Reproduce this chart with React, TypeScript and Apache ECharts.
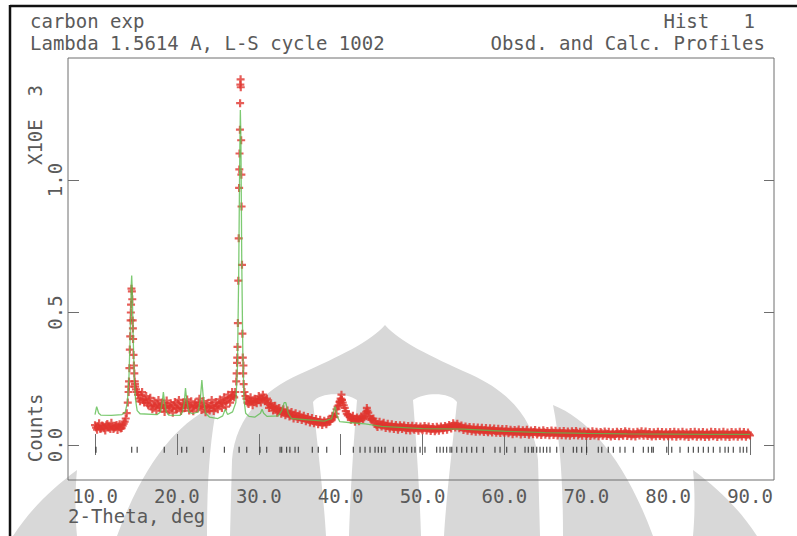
import React, { useEffect, useRef } from "react";
import * as echarts from "echarts";

// ---------- texts ----------
const headerLeft = ["carbon exp", "Lambda 1.5614 A, L-S cycle 1002"];
const headerRight = ["Hist   1", "Obsd. and Calc. Profiles"];
const xTitle = "2-Theta, deg";
const yTitle = "Counts";
const yScaleNote = "X10E  3";

// ---------- axes ----------
const xTicks = [10, 20, 30, 40, 50, 60, 70, 80, 90];
const yTicks = [0, 0.5, 1.0];
const X_MIN = 6.7;
const X_MAX = 92.93;
const Y_MIN = -0.132;
const Y_MAX = 1.4604;

// ---------- observed profile (x10^3 counts) ----------
// row i = degree 10+i, samples at +0.00, +0.25, +0.50, +0.75
const obsStartDeg = 10;
const obsStepDeg = 0.25;
const obsByDegree: number[][] = [
  [0.075, 0.058, 0.082, 0.062], // 10
  [0.071, 0.055, 0.079, 0.066], // 11
  [0.084, 0.06, 0.072, 0.057], // 12
  [0.078, 0.064, 0.081, 0.1], // 13
  [0.16, 0.36, 0.58, 0.3], // 14
  [0.21, 0.19, 0.165, 0.2], // 15
  [0.16, 0.185, 0.15, 0.178], // 16
  [0.135, 0.165, 0.13, 0.17], // 17
  [0.14, 0.16, 0.125, 0.168], // 18
  [0.13, 0.158, 0.122, 0.162], // 19
  [0.135, 0.17, 0.128, 0.16], // 20
  [0.14, 0.172, 0.13, 0.165], // 21
  [0.127, 0.16, 0.138, 0.175], // 22
  [0.132, 0.166, 0.124, 0.158], // 23
  [0.13, 0.17, 0.128, 0.162], // 24
  [0.135, 0.172, 0.14, 0.18], // 25
  [0.145, 0.19, 0.16, 0.2], // 26
  [0.18, 0.24, 0.62, 1.36], // 27
  [0.42, 0.2, 0.175, 0.155], // 28
  [0.18, 0.15, 0.175, 0.158], // 29
  [0.185, 0.16, 0.19, 0.165], // 30
  [0.175, 0.14, 0.158, 0.13], // 31
  [0.148, 0.122, 0.14, 0.118], // 32
  [0.135, 0.112, 0.13, 0.108], // 33
  [0.125, 0.1, 0.12, 0.098], // 34
  [0.115, 0.094, 0.11, 0.09], // 35
  [0.106, 0.085, 0.102, 0.082], // 36
  [0.098, 0.078, 0.095, 0.076], // 37
  [0.092, 0.078, 0.095, 0.09], // 38
  [0.11, 0.105, 0.135, 0.15], // 39
  [0.175, 0.16, 0.14, 0.118], // 40
  [0.115, 0.095, 0.11, 0.088], // 41
  [0.104, 0.09, 0.108, 0.098], // 42
  [0.118, 0.13, 0.108, 0.095], // 43
  [0.1, 0.082, 0.068, 0.088], // 44
  [0.07, 0.084, 0.064, 0.08], // 45
  [0.062, 0.078, 0.06, 0.076], // 46
  [0.058, 0.075, 0.06, 0.074], // 47
  [0.056, 0.072, 0.055, 0.073], // 48
  [0.058, 0.071, 0.054, 0.07], // 49
  [0.056, 0.072, 0.055, 0.07], // 50
  [0.053, 0.068, 0.052, 0.069], // 51
  [0.054, 0.07, 0.056, 0.072], // 52
  [0.058, 0.076, 0.062, 0.082], // 53
  [0.066, 0.08, 0.063, 0.074], // 54
  [0.057, 0.07, 0.054, 0.068], // 55
  [0.052, 0.067, 0.05, 0.066], // 56
  [0.051, 0.065, 0.049, 0.064], // 57
  [0.048, 0.063, 0.047, 0.062], // 58
  [0.046, 0.061, 0.045, 0.06], // 59
  [0.046, 0.06, 0.044, 0.058], // 60
  [0.041, 0.057, 0.043, 0.059], // 61
  [0.04, 0.056, 0.042, 0.058], // 62
  [0.039, 0.055, 0.041, 0.057], // 63
  [0.04, 0.054, 0.038, 0.056], // 64
  [0.039, 0.053, 0.037, 0.055], // 65
  [0.038, 0.054, 0.036, 0.052], // 66
  [0.037, 0.053, 0.036, 0.051], // 67
  [0.035, 0.052, 0.037, 0.053], // 68
  [0.036, 0.05, 0.035, 0.051], // 69
  [0.034, 0.05, 0.034, 0.052], // 70
  [0.036, 0.05, 0.033, 0.049], // 71
  [0.035, 0.051, 0.034, 0.05], // 72
  [0.032, 0.048, 0.034, 0.05], // 73
  [0.033, 0.049, 0.035, 0.052], // 74
  [0.034, 0.05, 0.033, 0.048], // 75
  [0.032, 0.05, 0.036, 0.052], // 76
  [0.035, 0.051, 0.034, 0.049], // 77
  [0.032, 0.048, 0.033, 0.05], // 78
  [0.034, 0.049, 0.032, 0.048], // 79
  [0.033, 0.049, 0.032, 0.05], // 80
  [0.031, 0.048, 0.033, 0.05], // 81
  [0.032, 0.047, 0.03, 0.049], // 82
  [0.033, 0.05, 0.031, 0.048], // 83
  [0.032, 0.049, 0.03, 0.047], // 84
  [0.031, 0.05, 0.033, 0.049], // 85
  [0.03, 0.048, 0.032, 0.05], // 86
  [0.031, 0.047, 0.03, 0.049], // 87
  [0.032, 0.048, 0.031, 0.05], // 88
  [0.032, 0.049, 0.031, 0.047], // 89
];
// row i = degree 10+i, samples at +0.125, +0.375, +0.625, +0.875
const obsMidOffsetDeg = 0.125;
const obsMidByDegree: number[][] = [
  [0.066, 0.07, 0.061, 0.074], // 10
  [0.063, 0.075, 0.068, 0.06], // 11
  [0.069, 0.065, 0.076, 0.07], // 12
  [0.062, 0.073, 0.088, 0.12], // 13
  [0.22, 0.5, 0.44, 0.23], // 14
  [0.2, 0.175, 0.19, 0.17], // 15
  [0.172, 0.158, 0.168, 0.145], // 16
  [0.15, 0.148, 0.155, 0.142], // 17
  [0.152, 0.14, 0.147, 0.15], // 18
  [0.145, 0.14, 0.15, 0.138], // 19
  [0.155, 0.145, 0.14, 0.152], // 20
  [0.156, 0.15, 0.148, 0.142], // 21
  [0.145, 0.15, 0.158, 0.15], // 22
  [0.148, 0.142, 0.145, 0.14], // 23
  [0.15, 0.148, 0.142, 0.148], // 24
  [0.155, 0.158, 0.16, 0.165], // 25
  [0.168, 0.175, 0.18, 0.185], // 26
  [0.2, 0.33, 1.04, 1.02], // 27
  [0.3, 0.185, 0.16, 0.168], // 28
  [0.165, 0.162, 0.166, 0.17], // 29
  [0.172, 0.176, 0.178, 0.17], // 30
  [0.155, 0.15, 0.143, 0.14], // 31
  [0.135, 0.13, 0.128, 0.125], // 32
  [0.122, 0.12, 0.118, 0.115], // 33
  [0.112, 0.11, 0.108, 0.106], // 34
  [0.104, 0.102, 0.1, 0.098], // 35
  [0.095, 0.093, 0.091, 0.09], // 36
  [0.088, 0.086, 0.085, 0.084], // 37
  [0.085, 0.086, 0.088, 0.098], // 38
  [0.108, 0.118, 0.145, 0.162], // 39
  [0.17, 0.15, 0.128, 0.112], // 40
  [0.105, 0.1, 0.098, 0.097], // 41
  [0.096, 0.1, 0.102, 0.105], // 42
  [0.125, 0.122, 0.1, 0.098], // 43
  [0.09, 0.075, 0.078, 0.076], // 44
  [0.077, 0.074, 0.072, 0.07], // 45
  [0.07, 0.068, 0.069, 0.067], // 46
  [0.066, 0.068, 0.067, 0.065], // 47
  [0.064, 0.063, 0.065, 0.062], // 48
  [0.064, 0.062, 0.063, 0.061], // 49
  [0.063, 0.064, 0.062, 0.061], // 50
  [0.06, 0.061, 0.059, 0.062], // 51
  [0.062, 0.063, 0.064, 0.066], // 52
  [0.067, 0.069, 0.072, 0.074], // 53
  [0.073, 0.071, 0.068, 0.065], // 54
  [0.063, 0.062, 0.061, 0.06], // 55
  [0.059, 0.058, 0.059, 0.057], // 56
  [0.058, 0.056, 0.057, 0.055], // 57
  [0.055, 0.054, 0.056, 0.053], // 58
  [0.053, 0.052, 0.054, 0.051], // 59
  [0.052, 0.051, 0.05, 0.051], // 60
  [0.049, 0.05, 0.051, 0.049], // 61
  [0.048, 0.049, 0.05, 0.048], // 62
  [0.047, 0.048, 0.049, 0.047], // 63
  [0.046, 0.047, 0.046, 0.048], // 64
  [0.045, 0.046, 0.045, 0.047], // 65
  [0.044, 0.046, 0.044, 0.045], // 66
  [0.045, 0.044, 0.043, 0.044], // 67
  [0.043, 0.045, 0.044, 0.046], // 68
  [0.042, 0.043, 0.044, 0.043], // 69
  [0.042, 0.044, 0.041, 0.043], // 70
  [0.042, 0.043, 0.041, 0.044], // 71
  [0.041, 0.043, 0.042, 0.04], // 72
  [0.041, 0.04, 0.042, 0.043], // 73
  [0.042, 0.041, 0.043, 0.044], // 74
  [0.041, 0.042, 0.04, 0.041], // 75
  [0.042, 0.044, 0.043, 0.042], // 76
  [0.043, 0.041, 0.042, 0.04], // 77
  [0.04, 0.041, 0.042, 0.041], // 78
  [0.041, 0.04, 0.041, 0.04], // 79
  [0.041, 0.04, 0.042, 0.041], // 80
  [0.04, 0.041, 0.04, 0.042], // 81
  [0.039, 0.04, 0.041, 0.04], // 82
  [0.04, 0.041, 0.039, 0.04], // 83
  [0.041, 0.039, 0.04, 0.039], // 84
  [0.04, 0.041, 0.04, 0.041], // 85
  [0.039, 0.04, 0.041, 0.04], // 86
  [0.04, 0.039, 0.04, 0.041], // 87
  [0.04, 0.041, 0.039, 0.04], // 88
  [0.041, 0.04, 0.039, 0.04], // 89
];
const obsLast: [number, number] = [90.0, 0.036];
// extra observed points on the sharp peaks
const obsPeakPoints: [number, number][] = [
  [14.1, 0.2], [14.15, 0.24], [14.2, 0.29], [14.3, 0.41], [14.35, 0.47], [14.4, 0.53],
  [14.45, 0.59], [14.55, 0.55], [14.6, 0.47], [14.65, 0.4], [14.7, 0.34], [14.8, 0.27],
  [14.85, 0.24], [14.9, 0.22],
  [27.3, 0.27], [27.35, 0.31], [27.4, 0.37], [27.45, 0.46], [27.55, 0.78], [27.6, 0.97],
  [27.65, 1.1], [27.7, 1.19], [27.72, 1.29], [27.78, 1.38], [27.8, 1.35], [27.85, 1.15],
  [27.9, 0.9], [27.95, 0.68], [28.05, 0.33], [28.1, 0.27], [28.15, 0.23],
  [39.9, 0.165], [40.1, 0.19], [40.15, 0.17], [43.2, 0.14],
];

// ---------- calculated profile ----------
const calcProfile: [number, number][] = [
  [10.0, 0.115], [10.1, 0.13], [10.2, 0.145], [10.3, 0.135], [10.45, 0.12], [10.7, 0.113],
  [12.0, 0.112], [13.3, 0.115], [13.7, 0.125], [13.95, 0.16], [14.15, 0.26], [14.3, 0.42],
  [14.42, 0.6], [14.48, 0.64], [14.55, 0.58], [14.65, 0.42], [14.8, 0.25], [14.95, 0.17],
  [15.15, 0.13], [15.5, 0.118], [17.6, 0.115], [18.0, 0.125], [18.2, 0.16], [18.35, 0.2],
  [18.5, 0.16], [18.7, 0.125], [19.0, 0.113], [20.4, 0.112], [20.7, 0.125], [20.9, 0.16],
  [21.05, 0.215], [21.2, 0.17], [21.45, 0.125], [21.9, 0.118], [22.6, 0.125], [22.85, 0.17],
  [23.05, 0.245], [23.25, 0.17], [23.5, 0.12], [24.0, 0.105], [25.0, 0.1], [25.6, 0.11],
  [25.9, 0.135], [26.2, 0.115], [26.8, 0.125], [27.2, 0.16], [27.4, 0.3], [27.55, 0.65],
  [27.68, 1.1], [27.75, 1.264], [27.82, 1.15], [27.92, 0.7], [28.05, 0.35], [28.2, 0.17],
  [28.4, 0.12], [28.8, 0.108], [29.5, 0.105], [30.2, 0.12], [30.4, 0.135], [30.6, 0.12],
  [31.0, 0.108], [32.4, 0.11], [32.8, 0.13], [33.1, 0.16], [33.3, 0.16], [33.6, 0.12],
  [34.0, 0.1], [36.0, 0.095], [38.0, 0.09], [38.9, 0.1], [39.2, 0.135], [39.35, 0.145],
  [39.55, 0.11], [39.9, 0.088], [41.0, 0.085], [43.0, 0.08], [45.0, 0.07], [50.0, 0.062],
  [55.0, 0.06], [60.0, 0.052], [65.0, 0.047], [70.0, 0.044], [75.0, 0.042], [80.0, 0.041],
  [85.0, 0.04], [90.0, 0.04],
];

// ---------- reflection positions (deg) ----------
const reflections = [
  10.12, 14.48, 15.15, 18.46, 20.59, 21.2, 23.23, 25.8, 27.6, 28.53, 30.15, 30.97, 32.6,
  32.8, 33.4, 33.8, 34.43, 34.83, 36.54, 37.27, 38.3, 41.55, 42.37, 42.98, 43.59, 44.2,
  44.6, 45.0, 45.42, 46.43, 47.17, 47.66, 48.07, 48.68, 49.08, 49.7, 50.3, 51.73, 52.14,
  52.54, 52.95, 53.36, 53.57, 54.18, 54.79, 55.4, 56.01, 56.62, 57.43, 58.85, 59.47,
  60.28, 61.3, 62.52, 62.92, 63.34, 63.53, 63.95, 64.35, 64.76, 65.17, 65.57, 66.39,
  67.2, 68.42, 68.83, 69.44, 70.05, 71.47, 71.89, 72.69, 73.31, 74.12, 74.73, 75.75,
  76.97, 77.58, 77.99, 78.19, 79.83, 80.44, 81.45, 82.47, 83.08, 83.69, 84.3, 84.91,
  85.52, 86.33, 86.95, 87.35, 87.96, 88.78, 89.18, 89.6,
];
const reflTickLevel = -0.018;

// ---------- styling ----------
const MONO = '"DejaVu Sans Mono", monospace';
const TEXT = "#5a5a5a";
const AXIS = "#6e6e6e";
const RED = "#e0342e";
const GREEN = "#5dbd4f";
const WM = "#d8d8d8";
const PLUS = "path://M2.9,0H5.1V2.9H8V5.1H5.1V8H2.9V5.1H0V2.9H2.9Z";

// watermark (background logo) outlines, page pixels
const wmGrayPath =
  "M385,325 C400,342 430,356 470,374 C510,392 535,420 538,460 L540,536 L230,536 L232,460 C235,420 260,392 300,374 C340,356 370,342 385,325 Z " +
  "M553,405 C590,420 625,460 653,536 L563,536 C563,480 560,440 553,405 Z " +
  "M217,405 C180,420 145,460 117,536 L207,536 C207,480 210,440 217,405 Z " +
  "M693,470 C720,490 740,510 757,536 L693,536 C695,515 695,490 693,470 Z " +
  "M77,470 C50,490 30,510 13,536 L77,536 C75,515 75,490 77,470 Z";
const wmWhitePath =
  "M413,400 C425,392 450,392 457,402 C452,450 446,500 444,536 L421,536 C420,500 417,450 413,400 Z " +
  "M357,400 C345,392 320,392 313,402 C318,450 324,500 326,536 L349,536 C350,500 353,450 357,400 Z";

let shapesRegistered = false;
function registerShapes() {
  if (shapesRegistered) return;
  echarts.graphic.registerShape("wmGray", echarts.graphic.extendPath(wmGrayPath, {}) as any);
  echarts.graphic.registerShape("wmWhite", echarts.graphic.extendPath(wmWhitePath, {}) as any);
  shapesRegistered = true;
}

function buildObserved(): [number, number][] {
  const pts: [number, number][] = [];
  obsByDegree.forEach((row, i) => {
    row.forEach((v, j) => pts.push([obsStartDeg + i + j * obsStepDeg, v]));
  });
  obsMidByDegree.forEach((row, i) => {
    row.forEach((v, j) =>
      pts.push([obsStartDeg + i + obsMidOffsetDeg + j * obsStepDeg, v])
    );
  });
  pts.push(obsLast);
  obsPeakPoints.forEach((p) => pts.push(p));
  pts.sort((a, b) => a[0] - b[0]);
  return pts;
}

const fmt1 = (v: number) => Number(v).toFixed(1);

export default function App() {
  const ref = useRef<HTMLDivElement>(null);
  useEffect(() => {
    if (!ref.current) return;
    registerShapes();
    const chart = echarts.init(ref.current, null, { renderer: "svg" });
    const txt = (
      text: string,
      x: number,
      y: number,
      align: string,
      rotation = 0
    ) => ({
      type: "text",
      x,
      y,
      rotation,
      z: 5,
      silent: true,
      style: {
        text,
        fill: TEXT,
        fontSize: 19,
        lineHeight: 20,
        fontFamily: MONO,
        align,
        verticalAlign: "middle",
      },
    });
    const option: any = {
      animation: false,
      backgroundColor: "#ffffff",
      grid: {
        left: 68,
        right: 23,
        top: 58,
        bottom: 56,
        show: true,
        borderColor: AXIS,
        borderWidth: 1,
        backgroundColor: "transparent",
      },
      xAxis: [
        {
          type: "value",
          min: X_MIN,
          max: X_MAX,
          position: "bottom",
          axisLine: { show: false },
          splitLine: { show: false },
          axisTick: {
            show: true,
            inside: true,
            length: 11,
            customValues: xTicks,
            lineStyle: { color: AXIS, width: 1 },
          },
          axisLabel: {
            show: true,
            customValues: xTicks,
            formatter: fmt1,
            color: TEXT,
            fontSize: 19,
            fontFamily: MONO,
            margin: 6,
          },
        },
        {
          type: "value",
          min: X_MIN,
          max: X_MAX,
          position: "top",
          axisLine: { show: false },
          splitLine: { show: false },
          axisTick: {
            show: true,
            inside: true,
            length: 10,
            customValues: xTicks,
            lineStyle: { color: AXIS, width: 1 },
          },
          axisLabel: { show: false },
        },
      ],
      yAxis: [
        {
          type: "value",
          min: Y_MIN,
          max: Y_MAX,
          position: "left",
          axisLine: { show: false },
          splitLine: { show: false },
          axisTick: {
            show: true,
            inside: true,
            length: 11,
            customValues: yTicks,
            lineStyle: { color: AXIS, width: 1 },
          },
          axisLabel: {
            show: true,
            customValues: yTicks,
            formatter: fmt1,
            rotate: 90,
            color: TEXT,
            fontSize: 19,
            fontFamily: MONO,
            margin: 4,
          },
        },
        {
          type: "value",
          min: Y_MIN,
          max: Y_MAX,
          position: "right",
          axisLine: { show: false },
          splitLine: { show: false },
          axisTick: {
            show: true,
            inside: true,
            length: 10,
            customValues: yTicks,
            lineStyle: { color: AXIS, width: 1 },
          },
          axisLabel: { show: false },
        },
      ],
      series: [
        {
          type: "scatter",
          name: "Obsd.",
          data: buildObserved(),
          symbol: PLUS,
          symbolSize: 8,
          itemStyle: { color: RED },
          silent: true,
          z: 3,
        },
        {
          type: "line",
          name: "Calc.",
          data: calcProfile,
          showSymbol: false,
          symbol: "none",
          lineStyle: { color: GREEN, width: 1.3, opacity: 0.8 },
          silent: true,
          z: 4,
        },
        {
          type: "scatter",
          name: "Reflections",
          data: reflections.map((x) => [x, reflTickLevel]),
          symbol: "rect",
          symbolSize: [1.2, 6],
          itemStyle: { color: "#222222" },
          silent: true,
          z: 3,
        },
      ],
      graphic: [
        { type: "wmGray", x: 0, y: 0, z: -10, silent: true, style: { fill: WM } },
        { type: "wmWhite", x: 0, y: 0, z: -9, silent: true, style: { fill: "#ffffff" } },
        {
          type: "line",
          z: 5,
          silent: true,
          shape: { x1: 10, y1: 6, x2: 797, y2: 6 },
          style: { stroke: "#111111", lineWidth: 2.5 },
        },
        {
          type: "line",
          z: 5,
          silent: true,
          shape: { x1: 10, y1: 5, x2: 10, y2: 536 },
          style: { stroke: "#111111", lineWidth: 2.5 },
        },
        txt(headerLeft[0], 30, 21, "left"),
        txt(headerLeft[1], 30, 43, "left"),
        txt(headerRight[0], 755, 21, "right"),
        txt(headerRight[1], 765, 43, "right"),
        txt(xTitle, 68, 516, "left"),
        txt(yTitle, 35, 428, "center", Math.PI / 2),
        txt(yScaleNote, 35, 125, "center", Math.PI / 2),
      ],
    };
    chart.setOption(option);
    return () => chart.dispose();
  }, []);
  return <div ref={ref} style={{ width: 797, height: 536, position: "absolute", left: 0, top: 0 }} />;
}
